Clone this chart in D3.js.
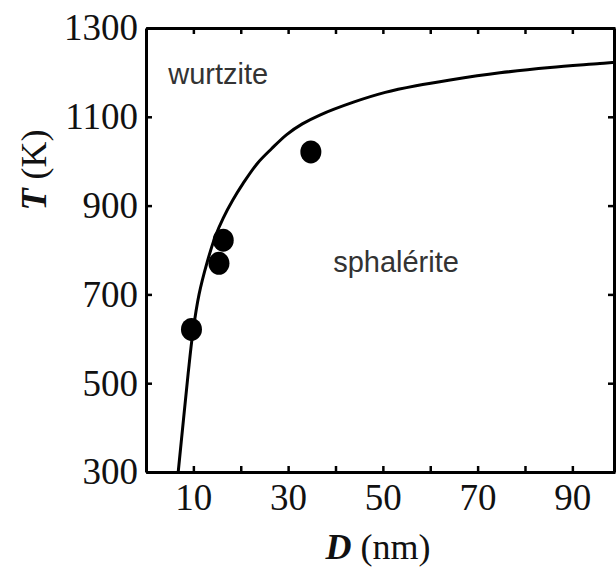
<!DOCTYPE html>
<html>
<head>
<meta charset="utf-8">
<script src="https://cdn.jsdelivr.net/npm/d3@7"></script>
<style>
  body { margin: 0; background: #fff; }
  .tick text { font-family: "Liberation Serif", serif; font-size: 37px; fill: #111; }
  .domain { stroke: #000; stroke-width: 3; }
  .tick line { stroke: #000; stroke-width: 2.5; }
</style>
</head>
<body>
<div id="chart"></div>
<script>
var w = 616;
var h = 568;
var margin = {top: 28, right: 1, bottom: 96, left: 146};

// curve (D in nm, T in K)
var curveD = [6.8, 7.9, 8.9, 9.9, 11.2, 12.9, 14.6, 16.3, 18.3, 20.5, 23.5, 26.5, 29.7, 33, 36.7, 43.8, 50.5, 57, 64.2, 74.7, 85.3, 95.8, 99];
var curveT = [300, 417, 522, 615, 700, 772, 830, 872, 912, 950, 995, 1028, 1060, 1084, 1104, 1133, 1155, 1170, 1183, 1199, 1211, 1220, 1223];

// measured points
var pointD = [9.6, 15.4, 16.3, 34.8];
var pointT = [621, 770, 822, 1021];

var xTicks = [10, 20, 30, 40, 50, 60, 70, 80, 90];
var xLabels = [10, 30, 50, 70, 90];
var yTicks = [300, 500, 700, 900, 1100, 1300];

var regions = [{name: "wurtzite", D: 4.7, T: 1175}, {name: "sphalérite", D: 39.5, T: 750}];

var svg = d3.select("#chart")
            .append("svg")
            .attr("width", w)
            .attr("height", h);

var xScale = d3.scaleLinear()
    .domain([0, 99])
    .range([margin.left, w - margin.right]);

var yScale = d3.scaleLinear()
    .domain([300, 1300])
    .range([h - margin.bottom, margin.top]);

// axes, ticks pointing inward
svg.append("g")
   .attr("transform", "translate(0," + (h - margin.bottom) + ")")
   .call(d3.axisBottom(xScale).tickValues(xTicks).tickSizeInner(-6).tickSizeOuter(0).tickPadding(12)
         .tickFormat(function (d) { return xLabels.indexOf(d) >= 0 ? d : ""; }));

svg.append("g")
   .attr("transform", "translate(0," + margin.top + ")")
   .call(d3.axisTop(xScale).tickValues(xTicks).tickSizeInner(-6).tickSizeOuter(0).tickFormat(""));

svg.append("g")
   .attr("transform", "translate(" + margin.left + ",0)")
   .call(d3.axisLeft(yScale).tickValues(yTicks).tickSizeInner(-6).tickSizeOuter(0).tickPadding(8)
         .tickFormat(d3.format("d")));

svg.append("g")
   .attr("transform", "translate(" + (w - margin.right - 1) + ",0)")
   .call(d3.axisRight(yScale).tickValues(yTicks).tickSizeInner(-6).tickSizeOuter(0).tickFormat(""));

// boundary curve
var line = d3.line()
    .x(function (d, i) { return xScale(curveD[i]); })
    .y(function (d, i) { return yScale(curveT[i]); })
    .curve(d3.curveCatmullRom);

svg.append("path")
   .datum(curveD)
   .attr("d", line)
   .attr("fill", "none")
   .attr("stroke", "#000")
   .attr("stroke-width", 3);

// points
svg.selectAll(".pt")
   .data(pointD)
   .enter()
   .append("ellipse")
   .attr("class", "pt")
   .attr("cx", function (d) { return xScale(d); })
   .attr("cy", function (d, i) { return yScale(pointT[i]); })
   .attr("rx", 10.5)
   .attr("ry", 11.5)
   .attr("fill", "#000");

// region labels
svg.selectAll(".region")
   .data(regions)
   .enter()
   .append("text")
   .attr("class", "region")
   .attr("x", function (d) { return xScale(d.D); })
   .attr("y", function (d) { return yScale(d.T); })
   .attr("font-family", "Liberation Sans, Arial, sans-serif")
   .attr("font-size", 29)
   .attr("fill", "#333")
   .text(function (d) { return d.name; });

// axis titles
var xt = svg.append("text")
   .attr("x", 378)
   .attr("y", 559)
   .attr("text-anchor", "middle")
   .attr("font-family", "Liberation Serif, serif")
   .attr("font-size", 36)
   .attr("fill", "#111");
xt.append("tspan").attr("font-weight", "bold").attr("font-style", "italic").text("D");
xt.append("tspan").text(" (nm)");

var yt = svg.append("text")
   .attr("transform", "translate(46,170) rotate(-90)")
   .attr("text-anchor", "middle")
   .attr("font-family", "Liberation Serif, serif")
   .attr("font-size", 36)
   .attr("fill", "#111");
yt.append("tspan").attr("font-weight", "bold").attr("font-style", "italic").text("T");
yt.append("tspan").text(" (K)");
</script>
</body>
</html>
